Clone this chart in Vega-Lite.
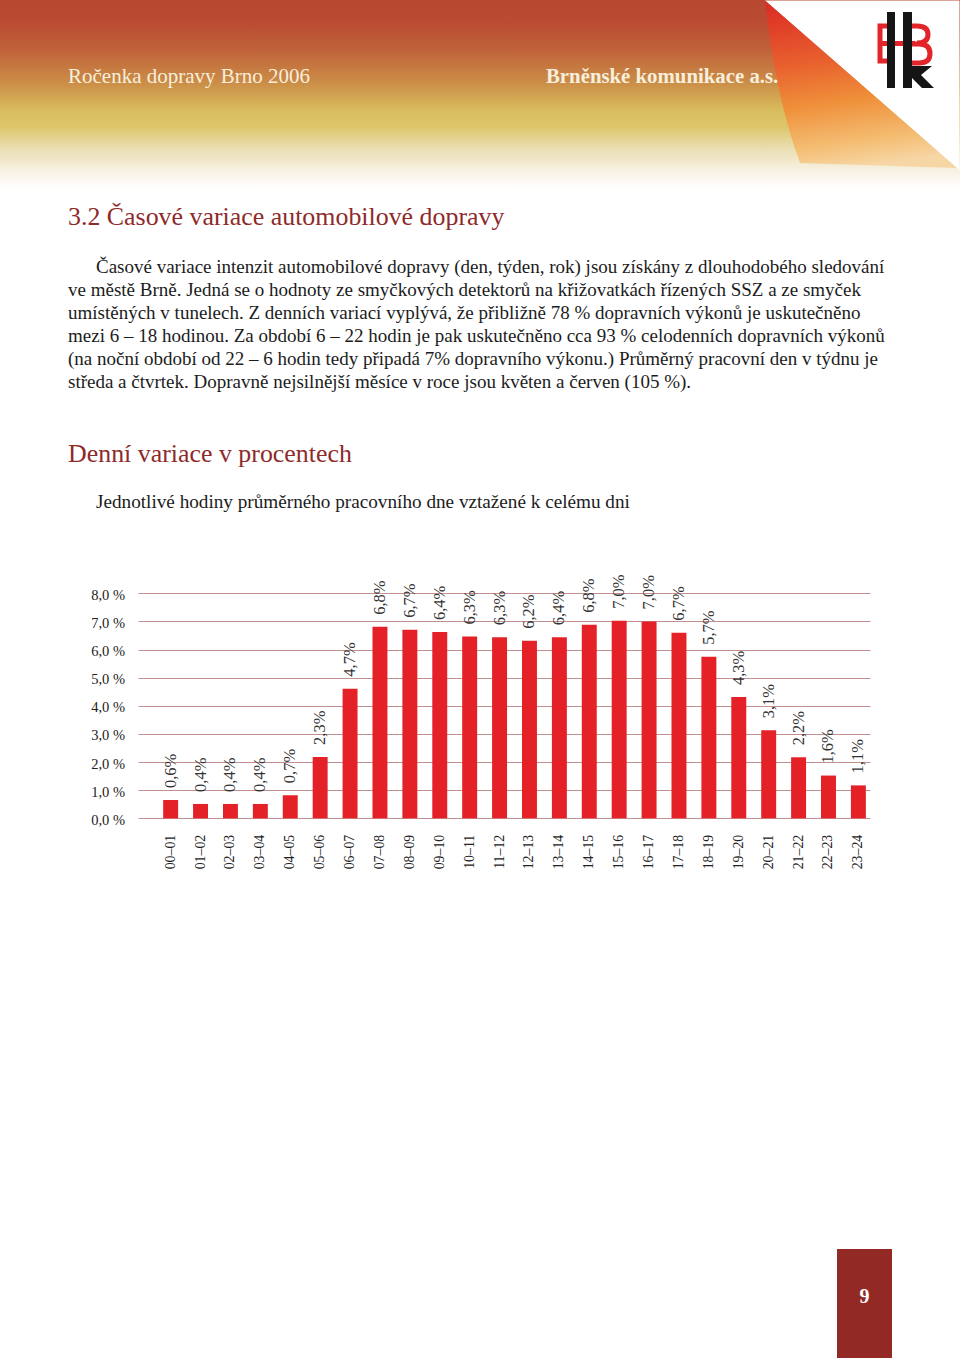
{
  "$schema": "https://vega.github.io/schema/vega-lite/v6.json",
  "width": 960,
  "height": 1358,
  "autosize": {"type": "fit", "contains": "padding"},
  "padding": 0,
  "background": "#ffffff",
  "config": {"view": {"stroke": null}, "text": {"font": "Liberation Serif"}},
  "resolve": {"scale": {"x": "independent", "y": "independent"}},
  "layer": [
    {
      "layer": [
        {
          "data": {"values": [{"part": "header band"}]},
          "mark": {
            "type": "rect",
            "color": {
              "gradient": "linear", "x1": 0, "y1": 0, "x2": 0, "y2": 1,
              "stops": [
                {"offset": 0, "color": "#b94831"},
                {"offset": 0.12, "color": "#ba4c33"},
                {"offset": 0.26, "color": "#c0623a"},
                {"offset": 0.43, "color": "#cb8d47"},
                {"offset": 0.57, "color": "#d8bb5c"},
                {"offset": 0.66, "color": "#ddc66a"},
                {"offset": 0.78, "color": "#ebdfb6"},
                {"offset": 0.9, "color": "#f8f3e6"},
                {"offset": 0.97, "color": "#fefdfb"},
                {"offset": 1, "color": "#ffffff"}
              ]
            }
          },
          "encoding": {
            "y": {"datum": 0, "type": "quantitative", "scale": {"domain": [1358, 0], "nice": false, "zero": false}, "axis": null},
            "y2": {"datum": 192}
          }
        },
        {
          "data": {"values": [{"part": "corner"}]},
          "mark": {"type": "point", "shape": "M-1,-0.895L0.945,-0.895L0.945,0.802Z", "size": 40000, "filled": true, "color": "#ffffff", "opacity": 1},
          "encoding": {
            "x": {"datum": 865, "type": "quantitative", "scale": {"domain": [0, 960], "nice": false, "zero": false}, "axis": null},
            "y": {"datum": 90, "type": "quantitative", "scale": {"domain": [1358, 0], "nice": false, "zero": false}, "axis": null}
          }
        },
        {
          "data": {"values": [{"part": "page curl"}]},
          "mark": {
            "type": "point", "shape": "M-1,-0.895Q-0.9,0.05 -0.65,0.73L0.92,0.78Z", "size": 40000, "filled": true, "opacity": 1,
            "color": {
              "gradient": "linear", "x1": 0.3, "y1": 0, "x2": 0.45, "y2": 1,
              "stops": [
                {"offset": 0, "color": "#dc2f26"},
                {"offset": 0.35, "color": "#e8602e"},
                {"offset": 0.6, "color": "#ef8f3a"},
                {"offset": 0.85, "color": "#f4bd72"},
                {"offset": 1, "color": "#f7d6a6"}
              ]
            }
          },
          "encoding": {
            "x": {"datum": 865, "type": "quantitative", "scale": {"domain": [0, 960], "nice": false, "zero": false}, "axis": null},
            "y": {"datum": 90, "type": "quantitative", "scale": {"domain": [1358, 0], "nice": false, "zero": false}, "axis": null}
          }
        },
        {
          "data": {"values": [{"part": "logo red"}]},
          "mark": {"type": "point", "shape": "M-0.36,-0.48H-0.5V0.22H-0.36M-0.5,-0.13H0.2M0,-0.48H0.24Q0.46,-0.48 0.46,-0.31Q0.46,-0.14 0.24,-0.14M0.14,-0.12H0.28Q0.5,-0.12 0.5,0.07Q0.5,0.26 0.28,0.26H0.14", "size": 10000, "filled": false, "color": "#e2242b", "strokeWidth": 5, "opacity": 1},
          "encoding": {
            "x": {"datum": 905, "type": "quantitative", "scale": {"domain": [0, 960], "nice": false, "zero": false}, "axis": null},
            "y": {"datum": 50, "type": "quantitative", "scale": {"domain": [1358, 0], "nice": false, "zero": false}, "axis": null}
          }
        },
        {
          "data": {"values": [{"part": "logo black"}]},
          "mark": {"type": "point", "shape": "M-0.36,-0.76H-0.2V0.76H-0.36ZM-0.04,-0.76H0.14V0.76H-0.04ZM0.14,0.32L0.54,0.32L0.32,0.5L0.58,0.76L0.34,0.76L0.14,0.56Z", "size": 10000, "filled": true, "color": "#151515", "opacity": 1},
          "encoding": {
            "x": {"datum": 905, "type": "quantitative", "scale": {"domain": [0, 960], "nice": false, "zero": false}, "axis": null},
            "y": {"datum": 50, "type": "quantitative", "scale": {"domain": [1358, 0], "nice": false, "zero": false}, "axis": null}
          }
        },
        {
          "data": {"values": [{"text": "Ročenka dopravy Brno 2006"}]},
          "mark": {"type": "text", "align": "left", "baseline": "alphabetic", "fontSize": 21, "color": "#f7efdc"},
          "encoding": {
            "text": {"field": "text"},
            "x": {"datum": 68, "type": "quantitative", "scale": {"domain": [0, 960], "nice": false, "zero": false}, "axis": null},
            "y": {"datum": 83, "type": "quantitative", "scale": {"domain": [1358, 0], "nice": false, "zero": false}, "axis": null}
          }
        },
        {
          "data": {"values": [{"text": "Brněnské komunikace a.s."}]},
          "mark": {"type": "text", "align": "left", "baseline": "alphabetic", "fontSize": 20.8, "fontWeight": "bold", "color": "#f7efdc"},
          "encoding": {
            "text": {"field": "text"},
            "x": {"datum": 546, "type": "quantitative", "scale": {"domain": [0, 960], "nice": false, "zero": false}, "axis": null},
            "y": {"datum": 83, "type": "quantitative", "scale": {"domain": [1358, 0], "nice": false, "zero": false}, "axis": null}
          }
        },
        {
          "data": {"values": [{"text": "3.2 Časové variace automobilové dopravy"}]},
          "mark": {"type": "text", "align": "left", "baseline": "alphabetic", "fontSize": 25.9, "color": "#8e2a2a"},
          "encoding": {
            "text": {"field": "text"},
            "x": {"datum": 68, "type": "quantitative", "scale": {"domain": [0, 960], "nice": false, "zero": false}, "axis": null},
            "y": {"datum": 225, "type": "quantitative", "scale": {"domain": [1358, 0], "nice": false, "zero": false}, "axis": null}
          }
        },
        {
          "data": {"values": [{"text": "Časové variace intenzit automobilové dopravy (den, týden, rok) jsou získány z dlouhodobého sledování"}]},
          "mark": {"type": "text", "align": "left", "baseline": "alphabetic", "fontSize": 19, "color": "#1c1c1c"},
          "encoding": {
            "text": {"field": "text"},
            "x": {"datum": 96, "type": "quantitative", "scale": {"domain": [0, 960], "nice": false, "zero": false}, "axis": null},
            "y": {"datum": 273, "type": "quantitative", "scale": {"domain": [1358, 0], "nice": false, "zero": false}, "axis": null}
          }
        },
        {
          "data": {"values": [{"text": "ve městě Brně. Jedná se o hodnoty ze smyčkových detektorů na křižovatkách řízených SSZ a ze smyček\numístěných v tunelech. Z denních variací vyplývá, že přibližně 78 % dopravních výkonů je uskutečněno\nmezi 6 – 18 hodinou. Za období 6 – 22 hodin je pak uskutečněno cca 93 % celodenních dopravních výkonů\n(na noční období od 22 – 6 hodin tedy připadá 7% dopravního výkonu.) Průměrný pracovní den v týdnu je\nstředa a čtvrtek. Dopravně nejsilnější měsíce v roce jsou květen a červen (105 %)."}]},
          "mark": {"type": "text", "align": "left", "baseline": "alphabetic", "fontSize": 19, "lineHeight": 23, "lineBreak": "\n", "color": "#1c1c1c"},
          "encoding": {
            "text": {"field": "text"},
            "x": {"datum": 68, "type": "quantitative", "scale": {"domain": [0, 960], "nice": false, "zero": false}, "axis": null},
            "y": {"datum": 296, "type": "quantitative", "scale": {"domain": [1358, 0], "nice": false, "zero": false}, "axis": null}
          }
        },
        {
          "data": {"values": [{"text": "Denní variace v procentech"}]},
          "mark": {"type": "text", "align": "left", "baseline": "alphabetic", "fontSize": 25.9, "color": "#8e2a2a"},
          "encoding": {
            "text": {"field": "text"},
            "x": {"datum": 68, "type": "quantitative", "scale": {"domain": [0, 960], "nice": false, "zero": false}, "axis": null},
            "y": {"datum": 461.5, "type": "quantitative", "scale": {"domain": [1358, 0], "nice": false, "zero": false}, "axis": null}
          }
        },
        {
          "data": {"values": [{"text": "Jednotlivé hodiny průměrného pracovního dne vztažené k celému dni"}]},
          "mark": {"type": "text", "align": "left", "baseline": "alphabetic", "fontSize": 19.2, "color": "#1c1c1c"},
          "encoding": {
            "text": {"field": "text"},
            "x": {"datum": 96, "type": "quantitative", "scale": {"domain": [0, 960], "nice": false, "zero": false}, "axis": null},
            "y": {"datum": 508, "type": "quantitative", "scale": {"domain": [1358, 0], "nice": false, "zero": false}, "axis": null}
          }
        },
        {
          "data": {"values": [{"page": "9"}]},
          "mark": {"type": "rect", "color": "#922925"},
          "encoding": {
            "x": {"datum": 837, "type": "quantitative", "scale": {"domain": [0, 960], "nice": false, "zero": false}, "axis": null},
            "x2": {"datum": 892},
            "y": {"datum": 1249, "type": "quantitative", "scale": {"domain": [1358, 0], "nice": false, "zero": false}, "axis": null},
            "y2": {"datum": 1358}
          }
        },
        {
          "data": {"values": [{"page": "9"}]},
          "mark": {"type": "text", "align": "center", "baseline": "alphabetic", "fontSize": 20, "fontWeight": "bold", "color": "#ffffff"},
          "encoding": {
            "text": {"field": "page"},
            "x": {"datum": 864.5, "type": "quantitative", "scale": {"domain": [0, 960], "nice": false, "zero": false}, "axis": null},
            "y": {"datum": 1303, "type": "quantitative", "scale": {"domain": [1358, 0], "nice": false, "zero": false}, "axis": null}
          }
        }
      ]
    },
    {
      "data": {
        "values": [
          {"hour": "00–01", "pct": 0.65, "label": "0,6%"},
          {"hour": "01–02", "pct": 0.51, "label": "0,4%"},
          {"hour": "02–03", "pct": 0.51, "label": "0,4%"},
          {"hour": "03–04", "pct": 0.51, "label": "0,4%"},
          {"hour": "04–05", "pct": 0.82, "label": "0,7%"},
          {"hour": "05–06", "pct": 2.18, "label": "2,3%"},
          {"hour": "06–07", "pct": 4.61, "label": "4,7%"},
          {"hour": "07–08", "pct": 6.81, "label": "6,8%"},
          {"hour": "08–09", "pct": 6.70, "label": "6,7%"},
          {"hour": "09–10", "pct": 6.62, "label": "6,4%"},
          {"hour": "10–11", "pct": 6.46, "label": "6,3%"},
          {"hour": "11–12", "pct": 6.44, "label": "6,3%"},
          {"hour": "12–13", "pct": 6.31, "label": "6,2%"},
          {"hour": "13–14", "pct": 6.44, "label": "6,4%"},
          {"hour": "14–15", "pct": 6.88, "label": "6,8%"},
          {"hour": "15–16", "pct": 7.02, "label": "7,0%"},
          {"hour": "16–17", "pct": 7.00, "label": "7,0%"},
          {"hour": "17–18", "pct": 6.60, "label": "6,7%"},
          {"hour": "18–19", "pct": 5.74, "label": "5,7%"},
          {"hour": "19–20", "pct": 4.31, "label": "4,3%"},
          {"hour": "20–21", "pct": 3.13, "label": "3,1%"},
          {"hour": "21–22", "pct": 2.17, "label": "2,2%"},
          {"hour": "22–23", "pct": 1.52, "label": "1,6%"},
          {"hour": "23–24", "pct": 1.17, "label": "1,1%"}
        ]
      },
      "encoding": {
        "x": {
          "field": "hour", "type": "nominal", "sort": null,
          "scale": {"type": "band", "range": [138, 870], "paddingInner": 0.5, "paddingOuter": 0.49, "align": 0.859},
          "axis": {"orient": "bottom", "offset": -539.7, "title": null, "domain": false, "ticks": false, "grid": false, "labelAngle": 270, "labelFont": "Liberation Serif", "labelFontSize": 13.8, "labelColor": "#222222", "labelPadding": 16}
        },
        "y": {
          "field": "pct", "type": "quantitative",
          "scale": {"domain": [0, 8], "range": [818.3, 593.3], "nice": false, "zero": true},
          "axis": {"orient": "left", "offset": -128.5, "title": null, "values": [0, 1, 2, 3, 4, 5, 6, 7, 8], "domain": false, "ticks": false, "grid": true, "gridColor": "#c39090", "gridWidth": 1, "gridOpacity": 1, "labelFont": "Liberation Serif", "labelFontSize": 14.5, "labelColor": "#222222", "labelPadding": 4, "labelOffset": 2, "labelExpr": "replace(format(datum.value, '.1f'), '.', ',') + ' %'"}
        }
      },
      "layer": [
        {"mark": {"type": "bar", "color": "#e42127"}},
        {
          "mark": {"type": "text", "angle": 270, "align": "left", "baseline": "middle", "dx": 12, "fontSize": 16.5, "color": "#333333"},
          "encoding": {"text": {"field": "label"}}
        }
      ]
    }
  ]
}
